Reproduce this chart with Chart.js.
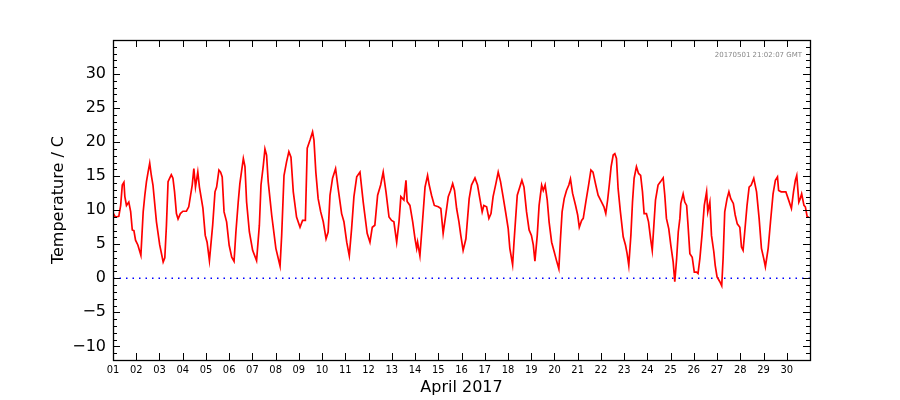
<!DOCTYPE html>
<html>
<head>
<meta charset="utf-8">
<script src="https://cdn.jsdelivr.net/npm/chart.js@4/dist/chart.umd.min.js"></script>
<style>
    body { margin: 0; background: #fff; }
</style>
</head>
<body>
<canvas id="tempChart" width="900" height="400"></canvas>
<script>
// time of each reading, in days since 01 April 00:00
const days = [
    0.00, 0.10, 0.25, 0.33, 0.40, 0.47, 0.51, 0.58, 0.68, 0.76, 0.83, 0.90, 0.97, 1.07, 1.20,
    1.30, 1.37, 1.44, 1.51, 1.58, 1.65, 1.72, 1.87, 2.01, 2.16, 2.23, 2.30, 2.37, 2.44, 2.51,
    2.58, 2.65, 2.73, 2.80, 2.90, 3.01, 3.16, 3.26, 3.34, 3.41, 3.48, 3.55, 3.65, 3.72, 3.87,
    3.97, 4.05, 4.15, 4.29, 4.39, 4.46, 4.56, 4.63, 4.70, 4.78, 4.89, 5.00, 5.11, 5.21, 5.29,
    5.39, 5.46, 5.54, 5.61, 5.68, 5.75, 5.87, 6.01, 6.18, 6.30, 6.37, 6.47, 6.54, 6.61, 6.68,
    6.83, 7.01, 7.19, 7.26, 7.36, 7.47, 7.57, 7.66, 7.76, 7.90, 8.05, 8.16, 8.28, 8.36, 8.48,
    8.59, 8.65, 8.73, 8.83, 8.94, 9.05, 9.17, 9.26, 9.34, 9.45, 9.58, 9.69, 9.84, 9.94, 10.06,
    10.17, 10.27, 10.37, 10.49, 10.63, 10.77, 10.94, 11.06, 11.16, 11.27, 11.39, 11.52, 11.63, 11.75, 11.88,
    11.99, 12.09, 12.21, 12.31, 12.39, 12.52, 12.61, 12.66, 12.78, 12.90, 13.00, 13.07, 13.11, 13.21, 13.31,
    13.43, 13.54, 13.61, 13.71, 13.83, 14.00, 14.11, 14.21, 14.33, 14.43, 14.53, 14.62, 14.70, 14.79, 14.89,
    14.97, 15.07, 15.19, 15.33, 15.43, 15.58, 15.69, 15.79, 15.89, 15.96, 16.08, 16.18, 16.27, 16.36, 16.48,
    16.58, 16.68, 16.79, 16.90, 17.01, 17.08, 17.20, 17.26, 17.33, 17.40, 17.51, 17.60, 17.69, 17.80, 17.91,
    18.01, 18.09, 18.16, 18.26, 18.34, 18.45, 18.52, 18.60, 18.69, 18.77, 18.88, 18.99, 19.09, 19.19, 19.26,
    19.33, 19.42, 19.52, 19.62, 19.69, 19.78, 19.91, 20.00, 20.07, 20.17, 20.24, 20.35, 20.47, 20.57, 20.66,
    20.78, 20.88, 21.03, 21.13, 21.21, 21.29, 21.36, 21.44, 21.53, 21.60, 21.67, 21.74, 21.84, 21.96, 22.06,
    22.13, 22.20, 22.29, 22.36, 22.43, 22.53, 22.62, 22.71, 22.79, 22.86, 22.96, 23.05, 23.14, 23.21, 23.28,
    23.35, 23.46, 23.57, 23.68, 23.75, 23.82, 23.92, 24.01, 24.11, 24.18, 24.26, 24.33, 24.40, 24.44, 24.54,
    24.61, 24.69, 24.75, 24.83, 24.93, 25.02, 25.12, 25.18, 25.26, 25.35, 25.45, 25.55, 25.60, 25.69, 25.76,
    25.86, 25.92, 26.00, 26.12, 26.20, 26.26, 26.33, 26.43, 26.51, 26.59, 26.70, 26.78, 26.87, 26.98, 27.05,
    27.12, 27.19, 27.29, 27.38, 27.47, 27.58, 27.70, 27.81, 27.91, 28.01, 28.08, 28.20, 28.30, 28.41, 28.51,
    28.60, 28.65, 28.76, 28.96, 29.06, 29.20, 29.29, 29.37, 29.43, 29.52, 29.58, 29.64, 29.74, 29.80, 29.88,
    29.96
];
// temperature in C at each of those times
const temps = [
    9.6, 9.0, 9.1, 10.7, 13.7, 14.1, 12.0, 10.7, 11.2, 9.8, 7.1, 7.0, 5.6, 4.9, 3.4,
    9.8, 12.2, 14.2, 15.6, 16.9, 15.1, 13.7, 8.3, 4.9, 2.4, 3.0, 7.8, 14.2, 14.7, 15.2,
    14.7, 12.7, 9.5, 8.7, 9.5, 9.85, 9.85, 10.5, 12.2, 13.7, 16.1, 13.4, 15.6, 13.4, 10.3,
    6.3, 5.3, 2.6, 7.8, 12.7, 13.4, 15.9, 15.6, 14.9, 9.75, 8.3, 4.85, 3.1, 2.5, 6.8,
    11.2, 13.9, 15.9, 17.6, 16.4, 11.2, 6.8, 4.1, 2.6, 7.8, 13.7, 16.6, 19.0, 18.1, 14.2,
    9.3, 4.4, 1.8, 6.3, 15.1, 17.1, 18.6, 17.8, 12.7, 9.0, 7.5, 8.5, 8.5, 19.1, 20.3,
    21.5, 20.3, 15.6, 11.7, 9.75, 8.3, 5.8, 6.8, 12.2, 14.7, 16.1, 13.2, 9.5, 8.3, 5.3,
    3.3, 7.3, 12.0, 14.9, 15.6, 11.2, 6.6, 5.3, 7.5, 7.8, 12.2, 13.7, 15.6, 12.7, 9.0,
    8.5, 8.3, 5.3, 8.3, 12.0, 11.5, 14.4, 11.3, 10.7, 8.3, 5.8, 4.4, 5.3, 3.3, 7.8,
    13.4, 15.1, 13.7, 12.2, 10.7, 10.5, 10.25, 6.6, 9.5, 12.0, 12.9, 13.9, 12.9, 10.25, 8.3,
    6.3, 4.1, 5.8, 11.7, 13.7, 14.75, 13.7, 11.7, 9.75, 10.7, 10.5, 8.8, 9.5, 12.0, 13.9,
    15.6, 14.2, 12.0, 9.7, 7.3, 4.4, 2.0, 5.3, 8.8, 12.2, 13.4, 14.4, 13.4, 9.75, 7.1,
    6.3, 4.9, 2.5, 6.3, 10.7, 13.7, 12.9, 13.7, 11.5, 8.3, 5.3, 3.9, 2.6, 1.4, 5.8,
    9.75, 11.7, 12.9, 13.7, 14.6, 12.5, 10.7, 9.3, 7.5, 8.5, 8.8, 11.2, 13.7, 15.9, 15.6,
    13.7, 12.2, 11.2, 10.5, 9.5, 11.5, 13.7, 16.4, 18.1, 18.3, 17.6, 13.2, 9.75, 6.1, 4.85,
    3.6, 1.9, 6.3, 11.2, 14.7, 16.4, 15.4, 15.1, 12.7, 9.5, 9.5, 8.3, 5.8, 4.1, 7.8,
    11.5, 13.7, 14.2, 14.75, 12.2, 8.8, 7.3, 4.85, 2.4, -0.5, 2.9, 6.8, 8.8, 11.0, 12.4,
    11.2, 10.7, 7.8, 3.6, 3.1, 0.9, 0.9, 0.7, 2.9, 6.3, 10.7, 12.7, 9.75, 11.2, 6.3,
    3.9, 1.9, 0.2, -0.5, -1.1, 2.9, 9.75, 11.7, 12.7, 11.7, 11.0, 9.3, 8.0, 7.5, 4.6,
    4.1, 6.8, 10.7, 13.4, 13.7, 14.7, 12.7, 8.8, 4.4, 2.9, 1.7, 4.4, 8.3, 12.4, 14.4,
    14.9, 12.9, 12.7, 12.7, 11.7, 10.25, 12.7, 14.4, 15.1, 11.2, 11.7, 12.4, 10.7, 10.5, 9.0,
    9.0
];
// reference line at 0 C
const zeroDays = [0, 30];
const zeroTemps = [0, 0];
// axis ticks
const dayTicks = [0, 1, 2, 3, 4, 5, 6, 7, 8, 9, 10, 11, 12, 13, 14, 15, 16, 17, 18, 19, 20, 21, 22, 23, 24, 25, 26, 27, 28, 29];
const dayLabels = ['01', '02', '03', '04', '05', '06', '07', '08', '09', '10', '11', '12', '13', '14', '15',
                   '16', '17', '18', '19', '20', '21', '22', '23', '24', '25', '26', '27', '28', '29', '30'];
const tempTicks = [-10, -5, 0, 5, 10, 15, 20, 25, 30];
const stamp = '20170501 21:02:07 GMT';

/**
 * 畫外框、向內的刻度和右上角時間戳
 */
const frameTicks = {
    id: 'frameTicks',
    afterDatasetsDraw(chart) {
        const { ctx, chartArea: a, scales: { x, y } } = chart;
        ctx.save();
        ctx.strokeStyle = '#000';
        ctx.lineWidth = 1;
        ctx.beginPath();
        // x 軸主刻度 (上下兩邊)
        for (let d = x.min; d <= x.max; d++) {
            const px = Math.round(x.getPixelForValue(d)) + 0.5;
            ctx.moveTo(px, a.bottom); ctx.lineTo(px, a.bottom - 7);
            ctx.moveTo(px, a.top); ctx.lineTo(px, a.top + 7);
        }
        // y 軸刻度 (左右兩邊)，每 5 度為主刻度
        for (let t = Math.ceil(y.min); t <= y.max; t++) {
            const py = Math.round(y.getPixelForValue(t)) + 0.5;
            const len = t % 5 === 0 ? 7 : 4;
            ctx.moveTo(a.left, py); ctx.lineTo(a.left + len, py);
            ctx.moveTo(a.right, py); ctx.lineTo(a.right - len, py);
        }
        ctx.stroke();
        ctx.lineWidth = 1.3;
        ctx.strokeRect(Math.round(a.left) + 0.5, Math.round(a.top) + 0.5,
                       Math.round(a.right - a.left), Math.round(a.bottom - a.top));
        // 時間戳
        ctx.fillStyle = '#888';
        ctx.font = '7px "DejaVu Sans"';
        ctx.textAlign = 'right';
        ctx.textBaseline = 'middle';
        ctx.fillText(stamp, a.right - 8, a.top + 15);
        ctx.restore();
    }
};

const ctx = document.getElementById('tempChart').getContext('2d');
new Chart(ctx, {
    type: 'line',
    data: {
        datasets: [{
            data: days.map((d, i) => ({ x: d, y: temps[i] })),
            borderColor: '#ff0000',
            borderWidth: 1.7,
            pointRadius: 0,
            tension: 0,
            order: 0
        }, {
            data: zeroDays.map((d, i) => ({ x: d, y: zeroTemps[i] })),
            borderColor: '#0000ff',
            borderWidth: 1.5,
            borderDash: [1.5, 5],
            pointRadius: 0,
            order: 1
        }]
    },
    options: {
        responsive: false,
        animation: false,
        layout: {
            padding: { top: 40, right: 90, left: 0, bottom: 0 }
        },
        plugins: {
            legend: { display: false },
            tooltip: { enabled: false }
        },
        scales: {
            x: {
                type: 'linear',
                min: 0,
                max: 30,
                afterFit: s => { s.height = 40; },
                afterBuildTicks: s => { s.ticks = dayTicks.map(v => ({ value: v })); },
                grid: { display: false, drawTicks: false },
                border: { display: false },
                ticks: {
                    autoSkip: false,
                    maxRotation: 0,
                    padding: 4,
                    color: '#000',
                    font: { family: '"DejaVu Sans Condensed", "DejaVu Sans"', size: 11 },
                    callback: v => dayLabels[v]
                },
                title: {
                    display: true,
                    text: 'April 2017',
                    color: '#000',
                    font: { family: '"DejaVu Sans"', size: 16 },
                    padding: { top: 0, bottom: 3 }
                }
            },
            y: {
                min: -12,
                max: 35,
                afterFit: s => { s.width = 113; },
                afterBuildTicks: s => { s.ticks = tempTicks.map(v => ({ value: v })); },
                grid: { display: false, drawTicks: false },
                border: { display: false },
                ticks: {
                    padding: 7,
                    color: '#000',
                    font: { family: '"DejaVu Sans"', size: 16 },
                    callback: v => (v < 0 ? '\u2212' + Math.abs(v) : String(v))
                },
                title: {
                    display: true,
                    text: 'Temperature / C',
                    color: '#000',
                    font: { family: '"DejaVu Sans"', size: 16 },
                    padding: { top: 49, bottom: 0 }
                }
            }
        }
    },
    plugins: [frameTicks]
});
</script>
</body>
</html>
